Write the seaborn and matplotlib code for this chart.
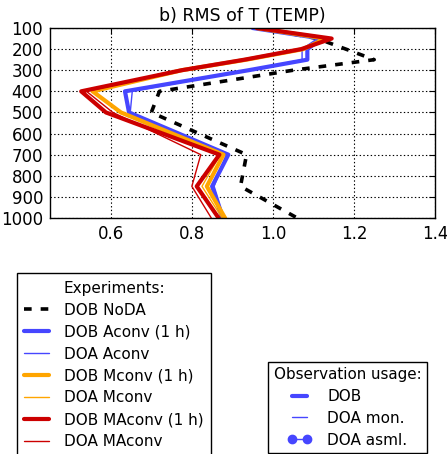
import matplotlib
matplotlib.use("Agg")
import matplotlib.pyplot as plt
import seaborn as sns
import pandas as pd
from matplotlib.lines import Line2D

# ---- data ----
levels = [100, 150, 200, 250, 300, 400, 500, 700, 850, 1000]
dob_noda    = [0.97, 1.11, 1.18, 1.25, 1.05, 0.72, 0.70, 0.935, 0.92, 1.06]
dob_aconv   = [0.95, 1.12, 1.085, 1.085, 0.94, 0.635, 0.645, 0.89, 0.85, 0.875]
doa_aconv   = [0.95, 1.11, 1.072, 1.072, 0.94, 0.653, 0.648, 0.885, 0.855, 0.88]
dob_mconv   = [0.96, 1.13, 1.075, 0.935, 0.775, 0.555, 0.625, 0.878, 0.837, 0.882]
doa_mconv   = [0.96, 1.13, 1.075, 0.94, 0.78, 0.56, 0.62, 0.87, 0.825, 0.875]
dob_maconv  = [0.96, 1.145, 1.07, 0.93, 0.775, 0.527, 0.588, 0.868, 0.812, 0.866]
doa_maconv  = [0.96, 1.14, 1.07, 0.93, 0.775, 0.54, 0.605, 0.822, 0.80, 0.848]

exp_labels = ["DOB NoDA", "DOB Aconv (1 h)", "DOA Aconv", "DOB Mconv (1 h)",
              "DOA Mconv", "DOB MAconv (1 h)", "DOA MAconv"]
usage_labels = ["DOB", "DOA mon.", "DOA asml."]
xticks = [0.6, 0.8, 1.0, 1.2, 1.4]
xticklabels = ["0.6", "0.8", "1.0", "1.2", "1.4"]

BLUE = "#4646ff"
ORANGE = "#ffa500"
RED = "#cc0000"

sns.set_style("white")
plt.rcParams["font.family"] = ["DejaVu Sans"]
plt.rcParams["lines.scale_dashes"] = False
plt.rcParams["text.color"] = "black"
plt.rcParams["axes.labelcolor"] = "black"
plt.rcParams["xtick.color"] = "black"
plt.rcParams["ytick.color"] = "black"

fig = plt.figure(figsize=(4.47, 4.54), dpi=100)
ax = fig.add_axes([50 / 447, 1 - 218 / 454, 385 / 447, 190 / 454])

series = [
    (dob_noda, "black", 2.6, (0, (5.5, 6.5))),
    (dob_aconv, BLUE, 3.0, "-"),
    (doa_aconv, BLUE, 1.0, "-"),
    (dob_mconv, ORANGE, 3.0, "-"),
    (doa_mconv, ORANGE, 1.0, "-"),
    (dob_maconv, RED, 3.0, "-"),
    (doa_maconv, RED, 1.0, "-"),
]
for vals, col, lw, ls in series:
    df = pd.DataFrame({"val": vals, "lev": levels})
    sns.lineplot(data=df, x="val", y="lev", orient="y", estimator=None,
                 color=col, lw=lw, linestyle=ls, ax=ax, legend=False)

ax.set_xlim(0.45, 1.4)
ax.set_ylim(1000, 100)
ax.set_yticks(list(range(100, 1001, 100)))
ax.set_xticks(xticks)
ax.set_xticklabels(xticklabels)
ax.set_xlabel("")
ax.set_ylabel("")
ax.grid(True, color="black", linestyle=":", linewidth=0.8)
ax.tick_params(axis="both", labelsize=12, direction="in", top=True, right=True,
               length=4, width=0.8, colors="black", pad=5)
for s in ax.spines.values():
    s.set_color("black")
    s.set_linewidth(1.0)
ax.set_title("b) RMS of T (TEMP)", fontsize=12.5, pad=5, color="black")

exp_handles = [
    Line2D([], [], color="black", lw=2.6, linestyle=(0, (5.5, 6.5))),
    Line2D([], [], color=BLUE, lw=3.0),
    Line2D([], [], color=BLUE, lw=1.0),
    Line2D([], [], color=ORANGE, lw=3.0),
    Line2D([], [], color=ORANGE, lw=1.0),
    Line2D([], [], color=RED, lw=3.0),
    Line2D([], [], color=RED, lw=1.0),
]
leg1 = fig.legend(exp_handles, exp_labels, title="Experiments:", loc="upper left",
                  bbox_to_anchor=(16.7 / 447, 1 - 273.3 / 454), fontsize=11,
                  title_fontsize=11, handlelength=1.6, handletextpad=1.0,
                  fancybox=False, edgecolor="black", framealpha=1,
                  borderpad=0.5, labelspacing=0.45, borderaxespad=0,
                  labelcolor="black")
leg1.get_frame().set_linewidth(1.0)
leg1.get_title().set_color("black")

use_handles = [
    Line2D([], [], color=BLUE, lw=3.0),
    Line2D([], [], color=BLUE, lw=1.0),
    Line2D([], [], color=BLUE, lw=1.0, marker="o", markersize=6),
]
leg2 = fig.legend(use_handles, usage_labels, title="Observation usage:", loc="upper right",
                  bbox_to_anchor=(426.7 / 447, 1 - 361.7 / 454), fontsize=11,
                  title_fontsize=10.9, handlelength=1.6, handletextpad=1.0, numpoints=2,
                  fancybox=False, edgecolor="black", framealpha=1,
                  borderpad=0.35, labelspacing=0.45, borderaxespad=0,
                  labelcolor="black")
leg2.get_frame().set_linewidth(1.0)
leg2.get_title().set_color("black")

fig.savefig("out.png", dpi=100)
